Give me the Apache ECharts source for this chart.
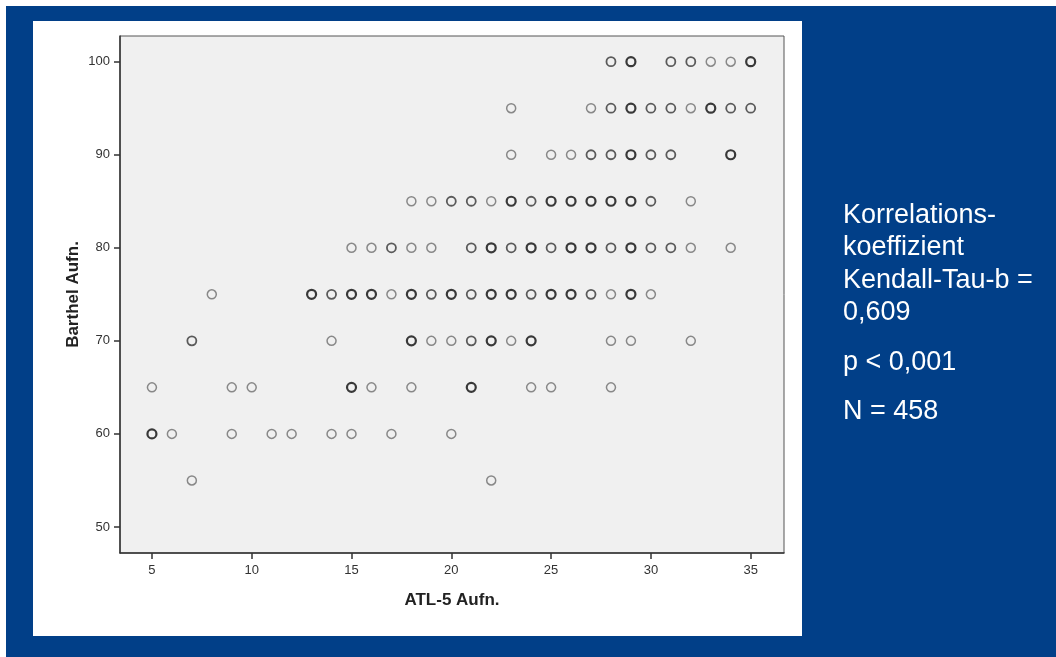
<!DOCTYPE html>
<html>
<head>
<meta charset="utf-8">
<title>Barthel vs ATL-5</title>
<script src="https://cdn.jsdelivr.net/npm/echarts@6/dist/echarts.min.js"></script>
<style>
  html, body { margin: 0; padding: 0; background: #fff; }
  #chart { width: 1056px; height: 657px; }
</style>
</head>
<body>
<div id="chart"></div>
<script>
// Barthel levels (y) and the ATL-5 scores (x) seen on each level
const barthelLevels = [100, 95, 90, 85, 80, 75, 70, 65, 60, 55];
const atlAtLevel = [
  [28, 29, 31, 32, 33, 34, 35],
  [23, 27, 28, 29, 30, 31, 32, 33, 34, 35],
  [23, 25, 26, 27, 28, 29, 30, 31, 34],
  [18, 19, 20, 21, 22, 23, 24, 25, 26, 27, 28, 29, 30, 32],
  [15, 16, 17, 18, 19, 21, 22, 23, 24, 25, 26, 27, 28, 29, 30, 31, 32, 34],
  [8, 13, 14, 15, 16, 17, 18, 19, 20, 21, 22, 23, 24, 25, 26, 27, 28, 29, 30],
  [7, 14, 18, 19, 20, 21, 22, 23, 24, 28, 29, 32],
  [5, 9, 10, 15, 16, 18, 21, 24, 25, 28],
  [5, 6, 9, 11, 12, 14, 15, 17, 20],
  [7, 22]
];
// how strongly each marker is overprinted (1 = single, 3 = many)
const overlapAtLevel = [
  [2, 3, 2, 2, 1, 1, 3],
  [1, 1, 2, 3, 2, 2, 1, 3, 2, 2],
  [1, 1, 1, 2, 2, 3, 2, 2, 3],
  [1, 1, 2, 2, 1, 3, 2, 3, 3, 3, 3, 3, 2, 1],
  [1, 1, 2, 1, 1, 2, 3, 2, 3, 2, 3, 3, 2, 3, 2, 2, 1, 1],
  [1, 3, 2, 3, 3, 1, 3, 2, 3, 2, 3, 3, 2, 3, 3, 2, 1, 3, 1],
  [2, 1, 3, 1, 1, 2, 3, 1, 3, 1, 1, 1],
  [1, 1, 1, 3, 1, 1, 3, 1, 1, 1],
  [3, 1, 1, 1, 1, 1, 1, 1, 1],
  [1, 1]
];
const xTicks = [5, 10, 15, 20, 25, 30, 35];
const yTicks = [50, 60, 70, 80, 90, 100];
const statLines = ['Korrelations-', 'koeffizient', 'Kendall-Tau-b =', '0,609', 'p < 0,001', 'N = 458'];

const ringStyles = {
  1: { color: '#6e6e6e', width: 1.5 },
  2: { color: '#353535', width: 1.8 },
  3: { color: '#0a0a0a', width: 2.2 }
};

const points = [];
barthelLevels.forEach((y, i) => {
  atlAtLevel[i].forEach((x, j) => {
    const s = ringStyles[overlapAtLevel[i][j]];
    points.push({
      value: [x, y],
      itemStyle: { borderColor: s.color, borderWidth: s.width }
    });
  });
});

const statY = [216, 248, 281, 313, 363, 412];

const chart = echarts.init(document.getElementById('chart'));
chart.setOption({
  animation: false,
  textStyle: { fontFamily: 'Liberation Sans, Arial, sans-serif' },
  graphic: [
    { type: 'rect', z: -100, shape: { x: 6, y: 6, width: 1050, height: 651 }, style: { fill: '#013f88' } },
    { type: 'rect', z: -90, shape: { x: 33, y: 21, width: 769, height: 615 }, style: { fill: '#ffffff' } }
  ].concat(statLines.map((t, i) => ({
    type: 'text',
    z: 10,
    x: 843,
    y: statY[i],
    style: {
      text: t,
      fill: '#ffffff',
      font: '27px "Liberation Sans", Arial, sans-serif',
      verticalAlign: 'middle'
    }
  }))),
  grid: {
    left: 120, top: 36, width: 664, height: 517,
    show: true,
    backgroundColor: '#f0f0f0',
    borderColor: '#555',
    borderWidth: 1
  },
  xAxis: {
    type: 'value',
    min: 3.4,
    max: 36.67,
    name: 'ATL-5 Aufn.',
    nameLocation: 'middle',
    nameGap: 39,
    nameMoveOverlap: false,
    nameTextStyle: { fontSize: 17, fontWeight: 'bold', color: '#222' },
    axisLine: { lineStyle: { color: '#333', width: 1.5 } },
    axisTick: { customValues: xTicks, length: 6, lineStyle: { color: '#333', width: 1.5 } },
    axisLabel: { customValues: xTicks, margin: 11, fontSize: 13, color: '#333' },
    splitLine: { show: false }
  },
  yAxis: {
    type: 'value',
    min: 47.2,
    max: 102.76,
    name: 'Barthel Aufn.',
    nameLocation: 'middle',
    nameGap: 38,
    nameMoveOverlap: false,
    nameTextStyle: { fontSize: 17, fontWeight: 'bold', color: '#222' },
    axisLine: { show: true, lineStyle: { color: '#333', width: 1.5 } },
    axisTick: { show: true, customValues: yTicks, length: 6, lineStyle: { color: '#333', width: 1.5 } },
    axisLabel: { customValues: yTicks, margin: 10, fontSize: 13, color: '#333' },
    splitLine: { show: false }
  },
  series: [{
    type: 'scatter',
    symbol: 'circle',
    symbolSize: 9,
    itemStyle: { color: 'rgba(0,0,0,0)' },
    data: points
  }]
});
</script>
</body>
</html>
